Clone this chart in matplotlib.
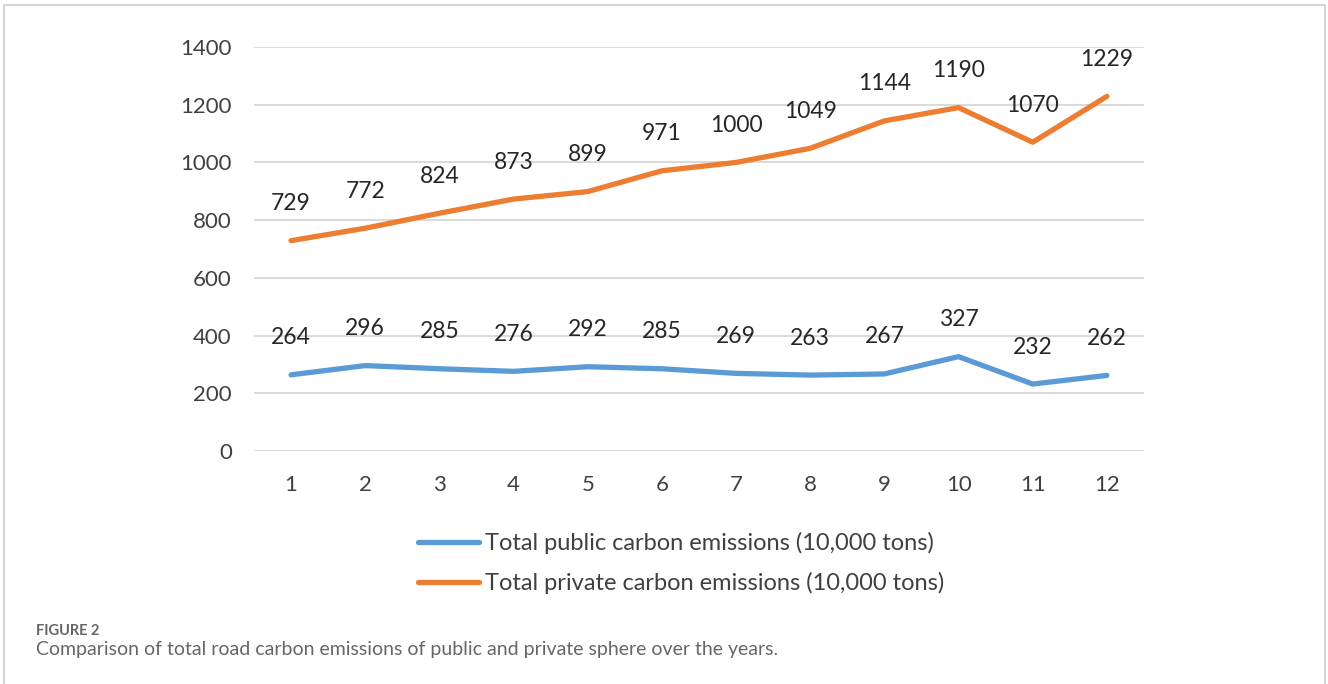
import matplotlib
matplotlib.use("Agg")
import matplotlib.pyplot as plt
from matplotlib.patches import Rectangle

# data
years = [1, 2, 3, 4, 5, 6, 7, 8, 9, 10, 11, 12]
public_total = [264, 296, 285, 276, 292, 285, 269, 263, 267, 327, 232, 262]
private_total = [729, 772, 824, 873, 899, 971, 1000, 1049, 1144, 1190, 1070, 1229]
y_ticks = [0, 200, 400, 600, 800, 1000, 1200, 1400]
public_label = "Total public carbon emissions (10,000 tons)"
private_label = "Total private carbon emissions (10,000 tons)"

plt.rcParams['font.family'] = ['Lato', 'DejaVu Sans']

W, H = 1328, 684
fig = plt.figure(figsize=(W / 100, H / 100), dpi=100)
fig.patch.set_facecolor("white")

# outer frame around the figure panel
fig.patches.append(Rectangle((4 / W, -0.01), 1321 / W, (H - 5) / H + 0.01,
                             transform=fig.transFigure, fill=False,
                             edgecolor="#cccccc", linewidth=1.2))

ax = fig.add_axes([254 / W, (H - 451) / H, 890 / W, 404 / H])
blue = "#5B9BD5"
orange = "#ED7D31"
text_col = "#404040"

ax.plot(years, public_total, color=blue, lw=3.8, solid_capstyle="round",
        solid_joinstyle="round", label=public_label, zorder=3)
ax.plot(years, private_total, color=orange, lw=3.8, solid_capstyle="round",
        solid_joinstyle="round", label=private_label, zorder=3)

# data labels above each point
for x, v in zip(years, public_total):
    ax.annotate(str(v), (x, v), xytext=(0, 37), textcoords="offset pixels",
                ha="center", va="center", fontsize=16.5, color="#262626")
for x, v in zip(years, private_total):
    ax.annotate(str(v), (x, v), xytext=(0, 37), textcoords="offset pixels",
                ha="center", va="center", fontsize=16.5, color="#262626")

ax.set_xlim(0.5, 12.5)
ax.set_ylim(0, 1400)
ax.set_yticks(y_ticks)
ax.set_xticks(years)
ax.grid(axis="y", color="#d9d9d9", lw=1.4)
ax.set_axisbelow(True)
for s in ax.spines.values():
    s.set_visible(False)
ax.tick_params(axis="both", length=0, labelsize=16, labelcolor=text_col)
ax.tick_params(axis="y", pad=16)
ax.tick_params(axis="x", pad=17)

fig.legend(loc="upper left", bbox_to_anchor=(397 / W, (H - 511) / H),
           frameon=False, fontsize=17, handlelength=2.58, handletextpad=0.25,
           labelspacing=0.75, labelcolor=text_col)

fig.text(36 / W, (H - 631) / H, "FIGURE 2", fontsize=10.5, color="#666666",
         fontweight="bold", va="center", ha="left")
fig.text(36 / W, (H - 649) / H,
         "Comparison of total road carbon emissions of public and private sphere over the years.",
         fontsize=14, color="#666666", va="center", ha="left")

fig.savefig("out.png", dpi=100)
